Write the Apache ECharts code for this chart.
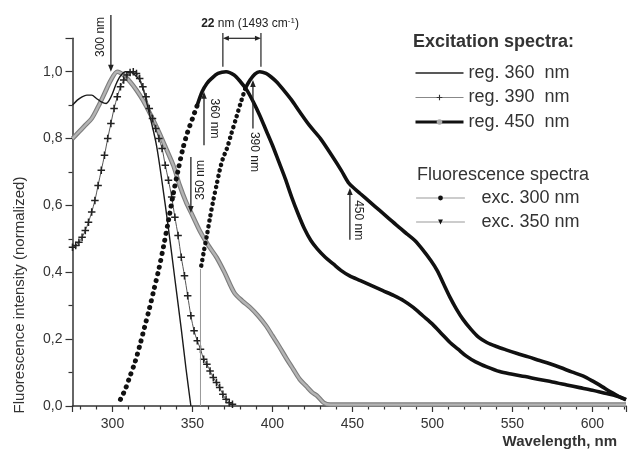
<!DOCTYPE html>
<html>
<head>
<meta charset="utf-8">
<script src="https://cdn.jsdelivr.net/npm/echarts@6/dist/echarts.min.js"></script>
<style>
  html, body { margin: 0; padding: 0; background: #fff; }
  #chart { width: 628px; height: 450px; }
</style>
</head>
<body>
<div id="chart"></div>
<script>
const FONT = "'Liberation Sans', Arial, sans-serif"

// excitation spectra [wavelength nm, normalized intensity]
const reg360 = [[275,0.90],[278,0.915],[281,0.925],[284,0.93],[287,0.93],[290,0.92],[293,0.91],[296,0.905],[298,0.915],[300,0.935],[302,0.96],[304,0.98],[306,0.993],[308,1.0],[311,1.0],[314,0.99],[317,0.975],[320,0.935],[323.5,0.865],[327.5,0.78],[331,0.67],[335,0.53],[339,0.38],[343,0.23],[346,0.11],[349,0.0]]
const reg390 = [[275,0.475],[277,0.48],[279,0.49],[281,0.505],[283,0.525],[285,0.55],[287,0.58],[289,0.615],[291,0.66],[293,0.705],[295,0.75],[297,0.80],[299,0.845],[301,0.89],[303,0.925],[305,0.955],[307,0.975],[309,0.99],[311,0.998],[313,1.0],[315,0.995],[317,0.98],[319,0.955],[321,0.925],[323,0.89],[325,0.86],[327,0.83],[329,0.80],[331,0.77],[333,0.72],[335,0.675],[337,0.625],[339,0.565],[341,0.51],[343,0.445],[345,0.39],[347,0.33],[349,0.27],[351,0.225],[353,0.195],[355,0.17],[357,0.14],[359,0.125],[361,0.105],[363,0.085],[365,0.07],[367,0.055],[369,0.035],[371,0.02],[373,0.01],[375,0.005]]
const reg450 = [[275,0.80],[279,0.82],[283,0.84],[287,0.86],[291,0.895],[295,0.935],[299,0.975],[303,1.0],[307,0.99],[311,0.97],[315,0.945],[319,0.915],[324,0.87],[329,0.82],[334,0.765],[338,0.72],[342,0.66],[346,0.61],[350,0.57],[355,0.52],[360,0.48],[365,0.445],[370,0.40],[376,0.34],[381,0.315],[386,0.295],[391,0.27],[396,0.24],[400,0.21],[404,0.18],[409,0.14],[413,0.11],[417,0.08],[421,0.06],[425,0.04],[428,0.03],[432,0.01],[436,0.004],[480,0.004],[540,0.004],[621,0.004]]

// fluorescence spectra, split where the marker style changes
const exc300Rise = [[305,0.02],[308,0.05],[311,0.09],[314,0.13],[317,0.18],[320,0.235],[323,0.29],[326,0.35],[329,0.41],[332,0.48],[335,0.555],[338,0.635],[341,0.705],[344,0.77],[347,0.82],[350,0.86],[353,0.9]]
const exc300Rest = [[353,0.9],[356,0.94],[359,0.965],[362,0.98],[366,0.995],[371,1.0],[376,0.99],[380,0.97],[384,0.945],[388,0.91],[392,0.87],[396,0.825],[400,0.78],[404,0.73],[408,0.68],[412,0.625],[416,0.575],[420,0.53],[424,0.495],[428,0.47],[433,0.445],[438,0.425],[443,0.405],[448,0.39],[455,0.375],[462,0.36],[469,0.345],[476,0.33],[482,0.315],[488,0.295],[494,0.27],[500,0.245],[506,0.215],[511,0.19],[516,0.17],[521,0.15],[527,0.132],[534,0.117],[542,0.103],[550,0.095],[558,0.088],[566,0.08],[575,0.072],[584,0.063],[592,0.055],[600,0.047],[608,0.038],[615,0.03],[621,0.02]]
const exc350Jump = [[355,0],[355,0.41]]
const exc350Rise = [[355.5,0.42],[357,0.46],[359,0.51],[361,0.565],[363,0.615],[365,0.66],[367,0.705],[369,0.74],[371.5,0.77],[374,0.81],[377.5,0.865],[380,0.905],[383,0.95]]
const exc350Rest = [[383,0.95],[386,0.975],[389,0.993],[392,1.0],[396,0.995],[399,0.985],[402.5,0.97],[407,0.945],[412,0.915],[417,0.88],[423,0.84],[430,0.80],[437,0.75],[443,0.705],[448,0.665],[455,0.635],[461,0.61],[467,0.585],[473,0.56],[479,0.535],[484,0.515],[489,0.495],[494,0.467],[499,0.435],[503,0.405],[507,0.365],[511,0.325],[515,0.29],[519,0.26],[524,0.23],[529,0.205],[534,0.19],[540,0.178],[546,0.168],[553,0.157],[560,0.147],[567,0.136],[573,0.127],[580,0.115],[587,0.102],[594,0.09],[600,0.075],[606,0.058],[611,0.043],[616,0.03],[621,0.018]]

// annotation arrows: wavelength, tail value, tip value
const arrows = [[299,1.17,1.0],[357.2,0.78,0.94],[387.8,0.83,0.975],[349,0.745,0.577],[448.4,0.497,0.652]]
// annotation labels: text, wavelength, value, reads upward?
const notes = [['300 nm',292.8,1.104,true],['360 nm',363.4,0.86,false],['390 nm',388.5,0.76,false],['350 nm',355.3,0.676,true],['450 nm',453.5,0.556,false]]
// peak separation bracket
const peakLeft = 369, peakRight = 392.8

const chart = echarts.init(document.getElementById('chart'))

const plus = 'path://M4,0h2v4h4v2h-4v4h-2v-4h-4v-2h4z'
const base = { type: 'line', smooth: 0.3, animation: false, silent: true }

chart.setOption({
  animation: false,
  textStyle: { fontFamily: FONT },
  grid: { left: 72.5, right: 2, top: 38.3, bottom: 44 },
  xAxis: {
    type: 'value', min: 275, max: 621, splitNumber: 7,
    axisLine: { lineStyle: { color: '#333', width: 1.5 } },
    axisTick: { length: 6, lineStyle: { color: '#333', width: 1.2 } },
    minorTick: { show: true, splitNumber: 5, length: 3.5, lineStyle: { color: '#333', width: 1.2 } },
    splitLine: { show: false },
    axisLabel: { showMinLabel: false, showMaxLabel: false, fontSize: 14, color: '#333', margin: 11, fontFamily: FONT },
    name: 'Wavelength, nm', nameLocation: 'end', nameGap: -9,
    nameTextStyle: { fontSize: 15, fontWeight: 'bold', color: '#333', align: 'right', verticalAlign: 'top', padding: [28, 0, 0, 0], fontFamily: FONT }
  },
  yAxis: {
    type: 'value', min: 0, max: 1.1, interval: 0.2,
    axisLine: { show: true, lineStyle: { color: '#333', width: 1.5 } },
    axisTick: { show: true, length: 7, lineStyle: { color: '#333', width: 1.2 } },
    minorTick: { show: true, splitNumber: 2, length: 4, lineStyle: { color: '#333', width: 1.2 } },
    splitLine: { show: false },
    axisLabel: { showMaxLabel: false, fontSize: 14, color: '#333', margin: 10, fontFamily: FONT,
      formatter: v => v.toFixed(1).replace('.', ',') }
  },
  legend: [
    {
      orient: 'vertical', left: 409, top: 59, padding: 5, itemWidth: 48, itemHeight: 7, itemGap: 6.5, selectedMode: false,
      textStyle: { fontSize: 18, color: '#333', fontFamily: FONT },
      data: [
        { name: 'reg. 360  nm', itemStyle: { opacity: 0 }, lineStyle: { color: '#222', width: 1.5 } },
        { name: 'reg. 390  nm', itemStyle: { color: '#333' }, lineStyle: { color: '#888', width: 1.2 } },
        { name: 'reg. 450  nm', itemStyle: { color: '#aaa' }, lineStyle: { color: '#111', width: 3 } }
      ]
    },
    {
      orient: 'vertical', left: 411, top: 184, padding: 5, itemWidth: 48, itemHeight: 6, itemGap: 6, selectedMode: false,
      textStyle: { fontSize: 18, color: '#333', fontFamily: FONT, padding: [0, 0, 0, 12] },
      data: [
        { name: 'exc. 300 nm', itemStyle: { color: '#111' }, lineStyle: { color: '#999', width: 1, type: 'solid' } },
        { name: 'exc. 350 nm', itemStyle: { color: '#111' }, lineStyle: { color: '#999', width: 1, type: 'solid' } }
      ]
    }
  ],
  series: [
    { ...base, name: 'reg. 450  nm', data: reg450, symbol: 'none', z: 2,
      lineStyle: { color: '#7d7d7d', width: 4.6 } },
    { ...base, name: 'reg. 450  nm', data: reg450, symbol: 'none', z: 2,
      lineStyle: { color: '#b4b4b4', width: 2.4 } },
    { ...base, name: 'reg. 360  nm', data: reg360, symbol: 'none', z: 3,
      lineStyle: { color: '#1a1a1a', width: 1.4 } },
    { ...base, name: 'reg. 390  nm', data: reg390, symbol: plus, symbolSize: 7.5, z: 4,
      itemStyle: { color: '#222' }, lineStyle: { color: '#555', width: 1 } },
    { ...base, name: 'exc. 300 nm', data: exc300Rise, symbol: 'circle', showSymbol: false, z: 5,
      lineStyle: { color: '#111', width: 5, type: [0.1, 6.8], cap: 'round' } },
    { ...base, name: 'exc. 300 nm', data: exc300Rest, symbol: 'none', z: 5,
      lineStyle: { color: '#111', width: 3.6 } },
    { ...base, name: 'exc. 350 nm', data: exc350Rise, symbol: 'triangle', symbolRotate: 180, showSymbol: false, z: 5,
      lineStyle: { color: '#111', width: 4.5, type: [0.1, 5.6], cap: 'round' } },
    { ...base, name: 'exc. 350 nm', data: exc350Jump, symbol: 'none', smooth: false, z: 5,
      lineStyle: { color: '#999', width: 1 } },
    { ...base, name: 'exc. 350 nm', data: exc350Rest, symbol: 'none', z: 5,
      lineStyle: { color: '#111', width: 3.6 } }
  ]
})

// annotations are placed through the grid's own scales
const px = (x, y) => chart.convertToPixel({ gridIndex: 0 }, [x, y])
const ink = '#222'
const elements = []

arrows.forEach(([x, from, to]) => {
  const a = px(x, from), b = px(x, to)
  const dir = Math.sign(b[1] - a[1])
  const head = 7
  elements.push({ type: 'line', z: 100, shape: { x1: a[0], y1: a[1], x2: b[0], y2: b[1] - dir * (head - 1) },
    style: { stroke: ink, lineWidth: 1.3 } })
  elements.push({ type: 'polygon', z: 100,
    shape: { points: [[b[0], b[1]], [b[0] - 2.8, b[1] - dir * head], [b[0] + 2.8, b[1] - dir * head]] },
    style: { fill: ink } })
})

notes.forEach(([text, x, y, up]) => {
  const p = px(x, y)
  elements.push({ type: 'text', z: 100, x: p[0], y: p[1], rotation: up ? Math.PI / 2 : -Math.PI / 2,
    style: { text, fontSize: 12, fontFamily: FONT, fill: ink, align: 'center', verticalAlign: 'middle' } })
})

// 22 nm bracket between the two fluorescence maxima
const lTop = px(peakLeft, 1.116), lBot = px(peakLeft, 1.015)
const rTop = px(peakRight, 1.116), rBot = px(peakRight, 1.015)
const barY = px(peakLeft, 1.10)[1]
elements.push(
  { type: 'line', z: 100, shape: { x1: lTop[0], y1: lTop[1], x2: lBot[0], y2: lBot[1] }, style: { stroke: ink, lineWidth: 1.2 } },
  { type: 'line', z: 100, shape: { x1: rTop[0], y1: rTop[1], x2: rBot[0], y2: rBot[1] }, style: { stroke: ink, lineWidth: 1.2 } },
  { type: 'line', z: 100, shape: { x1: lTop[0] + 5, y1: barY, x2: rTop[0] - 5, y2: barY }, style: { stroke: ink, lineWidth: 1.2 } },
  { type: 'polygon', z: 100, shape: { points: [[lTop[0], barY], [lTop[0] + 6, barY - 2.5], [lTop[0] + 6, barY + 2.5]] }, style: { fill: ink } },
  { type: 'polygon', z: 100, shape: { points: [[rTop[0], barY], [rTop[0] - 6, barY - 2.5], [rTop[0] - 6, barY + 2.5]] }, style: { fill: ink } }
)
const mid = px(386, 1.145)
elements.push({ type: 'text', z: 100, x: mid[0], y: mid[1],
  style: { text: '{b|22} nm (1493 cm{s|-1})', fontSize: 12, fontFamily: FONT, fill: ink, align: 'center', verticalAlign: 'middle',
    rich: { b: { fontWeight: 'bold', fontSize: 12, fontFamily: FONT, fill: ink }, s: { fontSize: 8, fontFamily: FONT, fill: ink, verticalAlign: 'top' } } } })

// axis title and legend headings
elements.push(
  { type: 'text', z: 100, x: 20, y: 295, rotation: Math.PI / 2,
    style: { text: 'Fluorescence intensity (normalized)', fontSize: 15, fontFamily: FONT, fill: '#333', align: 'center', verticalAlign: 'middle' } },
  { type: 'text', z: 100, x: 413, y: 42,
    style: { text: 'Excitation spectra:', fontSize: 18, fontWeight: 'bold', fontFamily: FONT, fill: '#333', align: 'left', verticalAlign: 'middle' } },
  { type: 'text', z: 100, x: 417, y: 175,
    style: { text: 'Fluorescence spectra', fontSize: 18, fontFamily: FONT, fill: '#333', align: 'left', verticalAlign: 'middle' } }
)

chart.setOption({ graphic: { elements } })
</script>
</body>
</html>
